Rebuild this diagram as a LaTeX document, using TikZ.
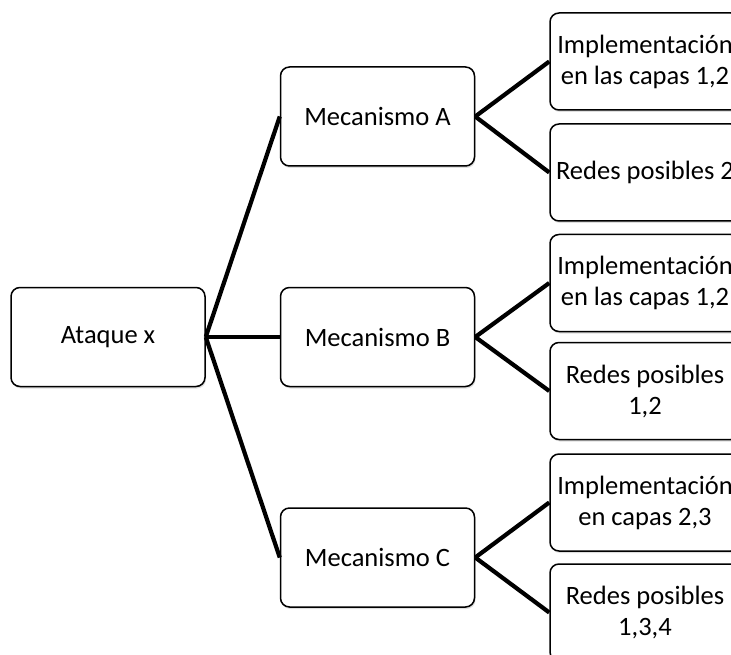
\documentclass[tikz,border=0pt]{standalone}
\usepackage{fontspec}
\setmainfont{Carlito}
\usetikzlibrary{positioning, calc, shadows}

\begin{document}
\begin{tikzpicture}[
  x=1pt, y=1pt,
  box/.style={
    draw,
    line width=1.5pt,
    rounded corners=9pt,
    align=center,
    fill=white,
    minimum width=194pt,
    minimum height=99pt,
    drop shadow={shadow xshift=1pt, shadow yshift=-2pt, opacity=0.25},
    font=\fontsize{26.5}{31}\selectfont
  },
  sidebox/.style={box, minimum width=190pt, minimum height=97pt, anchor=west},
  link/.style={line width=4.2pt}
]
\clip (0,0) rectangle (731,-655);

% Attack and mechanisms
\node[box] (ataque) at (108,-337) {Ataque x};
\node[box, right=74pt of ataque] (mecB) {Mecanismo B};
\node[box, above=120pt of mecB] (mecA) {Mecanismo A};
\node[box, below=120pt of mecB] (mecC) {Mecanismo C};

% Right column
\node[sidebox] (implA) at ($(mecA.east)+(74,55)$) {Implementación\\en las capas 1,2};
\node[sidebox] (redesA) at ($(mecA.east)+(74,-56)$) {Redes posibles 2};
\node[sidebox] (implB) at ($(mecB.east)+(74,54)$) {Implementación\\en las capas 1,2};
\node[sidebox] (redesB) at ($(mecB.east)+(74,-54)$) {Redes posibles\\1,2};
\node[sidebox] (implC) at ($(mecC.east)+(74,55)$) {Implementación\\en capas 2,3};
\node[sidebox] (redesC) at ($(mecC.east)+(74,-55)$) {Redes posibles\\1,3,4};

% Links
\draw[link] (ataque.east) -- (mecA.west);
\draw[link] (ataque.east) -- (mecB.west);
\draw[link] (ataque.east) -- (mecC.west);

\draw[link] (mecA.east) -- (implA.west);
\draw[link] (mecA.east) -- (redesA.west);
\draw[link] (mecB.east) -- (implB.west);
\draw[link] (mecB.east) -- (redesB.west);
\draw[link] (mecC.east) -- (implC.west);
\draw[link] (mecC.east) -- (redesC.west);

\end{tikzpicture}
\end{document}
